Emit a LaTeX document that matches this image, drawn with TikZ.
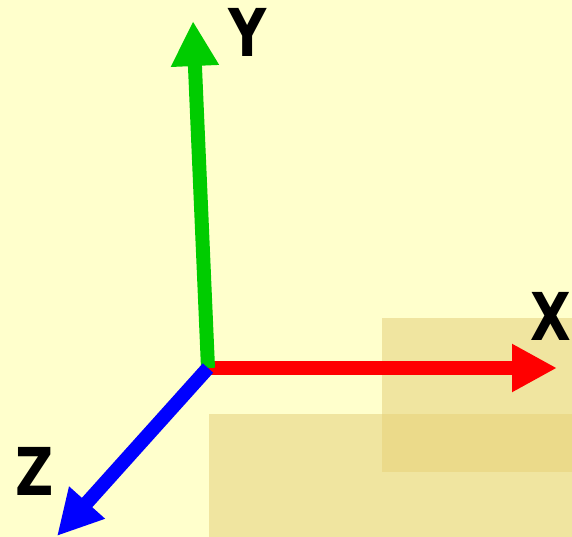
\documentclass[tikz,border=0pt]{standalone}
\usepackage{graphicx}
\usepackage{fontspec}
\setmainfont{DejaVu Sans}
\usetikzlibrary{arrows.meta}
\definecolor{bg}{HTML}{FFFFCC}
\definecolor{tan}{HTML}{F0E5A0}
\definecolor{tandark}{HTML}{EBDA8A}
\definecolor{axred}{HTML}{FF0000}
\definecolor{axgreen}{HTML}{00CC00}
\definecolor{axblue}{HTML}{0000FF}
\newcommand{\axlabel}[1]{\scalebox{0.8}[1]{\fontsize{66}{66}\selectfont\bfseries #1}}
\begin{document}
\begin{tikzpicture}[x=1pt,y=-1pt,
  axis/.style={line width=14pt,line cap=butt,-{Triangle[length=45pt,width=45pt]}},
  lbl/.style={inner sep=0pt,text=black}]
\fill[bg] (0,0) rectangle (572,537);
\useasboundingbox (0,0) rectangle (572,537);
\fill[tan] (382,318) rectangle (572,472);
\fill[tan] (209,414) rectangle (572,537);
\fill[tandark] (382,414) rectangle (572,472);
\coordinate (o) at (208,368);
\coordinate (xt) at (557,368);
\coordinate (yt) at (193,21);
\coordinate (zt) at (57,536);
\draw[axis,axred] (o) -- (xt);
\draw[axis,axgreen] (o) -- (yt);
\draw[axis,axblue] (o) -- (zt);
\node[lbl] (ylab) at (248,32) {\axlabel{Y}};
\node[lbl] (xlab) at (551,316) {\axlabel{X}};
\node[lbl] (zlab) at (35,471) {\axlabel{Z}};
\end{tikzpicture}
\end{document}
